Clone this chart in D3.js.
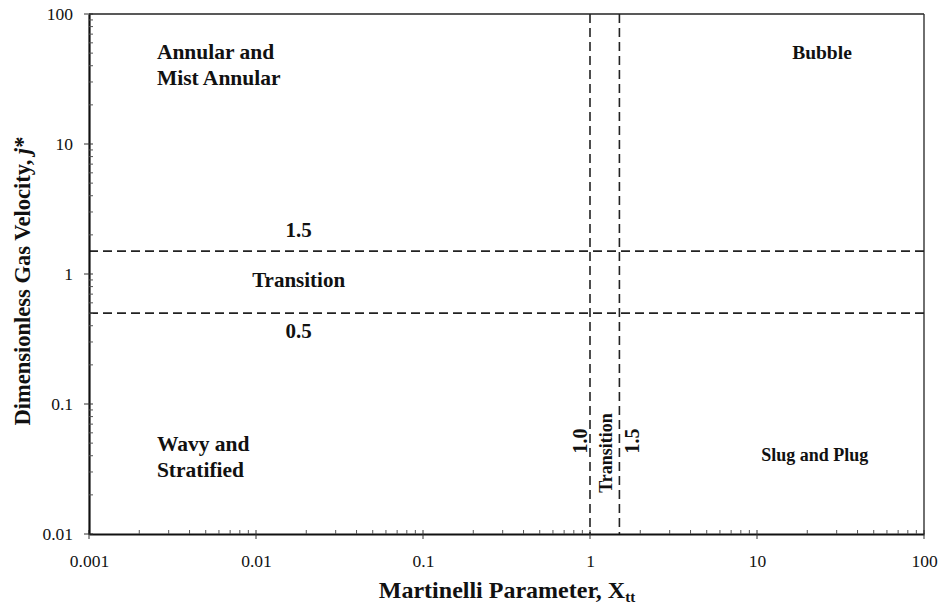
<!DOCTYPE html>
<html><head><meta charset="utf-8">
<script src="https://cdn.jsdelivr.net/npm/d3@7"></script>
<style>
html,body{margin:0;padding:0;background:#fff;}
svg{display:block;}
text{font-family:"Liberation Serif","Times New Roman",serif;fill:#111;}
</style></head><body>
<svg id="c" width="941" height="609"></svg>
<script>
// ---- data ----
const xTickValues = [0.001, 0.01, 0.1, 1, 10, 100];
const xTickLabels = ["0.001", "0.01", "0.1", "1", "10", "100"];
const yTickValues = [0.01, 0.1, 1, 10, 100];
const yTickLabels = ["0.01", "0.1", "1", "10", "100"];
const jStarBoundaries = [0.5, 1.5];          // horizontal dashed lines
const jStarBoundaryLabels = ["0.5", "1.5"];
const xttBoundaries = [1.0, 1.5];            // vertical dashed lines
const xttBoundaryLabels = ["1.0", "1.5"];
const regionNames = [["Annular and", "Mist Annular"], ["Bubble"], ["Wavy and", "Stratified"], ["Slug and Plug"], ["Transition"]];
const regionX = [0.00255, 24.5, 0.00255, 22.2, 0.018];
const regionY = [45, 45, 0.0435, 0.0365, 0.79];
const regionAnchor = ["start", "middle", "start", "middle", "middle"];
const regionSize = [21.5, 19.5, 21.5, 18, 21];

// ---- layout ----
const svg = d3.select("#c");
const L = 89, R = 924, T = 14, B = 534;
const x = d3.scaleLog().domain([0.001, 100]).range([L, R]);
const y = d3.scaleLog().domain([0.01, 100]).range([B, T]);

function minors(dom) {
  const out = [];
  for (let e = Math.round(Math.log10(dom[0])); e < Math.round(Math.log10(dom[1])); e++)
    for (let k = 2; k <= 9; k++) out.push(k * Math.pow(10, e));
  return out;
}
const g = svg.append("g");

// frame (top/right)
g.append("line").attr("x1", L).attr("x2", R).attr("y1", T).attr("y2", T).attr("stroke", "#222").attr("stroke-width", 1.6);
g.append("line").attr("x1", R).attr("x2", R).attr("y1", T).attr("y2", B).attr("stroke", "#333").attr("stroke-width", 1.4);

// dashed boundary lines
g.selectAll(".hb").data(jStarBoundaries).join("line")
  .attr("x1", L).attr("x2", R).attr("y1", d => y(d)).attr("y2", d => y(d))
  .attr("stroke", "#222").attr("stroke-width", 1.6).attr("stroke-dasharray", "9,5");
g.selectAll(".vb").data(xttBoundaries).join("line")
  .attr("y1", T).attr("y2", B).attr("x1", d => x(d)).attr("x2", d => x(d))
  .attr("stroke", "#222").attr("stroke-width", 1.6).attr("stroke-dasharray", "9,5");

// axes
const xAxis = svg.append("g").attr("transform", `translate(0,${B})`);
xAxis.call(d3.axisBottom(x).tickValues(xTickValues).tickFormat((d, i) => xTickLabels[i]).tickSize(0).tickPadding(21));
xAxis.select(".domain").attr("stroke", "#111").attr("stroke-width", 2.2);
xAxis.selectAll("text").attr("font-size", 17.5).attr("font-family", "Liberation Serif").attr("fill", "#222");
xAxis.selectAll(".mj").data(xTickValues).join("line").attr("x1", d => x(d)).attr("x2", d => x(d)).attr("y1", -4).attr("y2", 5).attr("stroke", "#333").attr("stroke-width", 1);
xAxis.selectAll(".mn").data(minors(x.domain())).join("line").attr("x1", d => x(d)).attr("x2", d => x(d)).attr("y1", -4).attr("y2", 0).attr("stroke", "#555").attr("stroke-width", 1);

const yAxis = svg.append("g").attr("transform", `translate(${L},0)`);
yAxis.call(d3.axisLeft(y).tickValues(yTickValues).tickFormat((d, i) => yTickLabels[i]).tickSize(0).tickPadding(16));
yAxis.select(".domain").attr("stroke", "#111").attr("stroke-width", 2.2);
yAxis.selectAll("text").attr("font-size", 17.5).attr("font-family", "Liberation Serif").attr("fill", "#222");
yAxis.selectAll(".mj").data(yTickValues).join("line").attr("y1", d => y(d)).attr("y2", d => y(d)).attr("x1", -5).attr("x2", 4).attr("stroke", "#333").attr("stroke-width", 1);
yAxis.selectAll(".mn").data(minors(y.domain())).join("line").attr("y1", d => y(d)).attr("y2", d => y(d)).attr("x1", 0).attr("x2", 4).attr("stroke", "#555").attr("stroke-width", 1);

// region labels
regionNames.forEach((lines, i) => {
  const t = svg.append("text").attr("x", x(regionX[i])).attr("y", y(regionY[i]))
    .attr("text-anchor", regionAnchor[i]).attr("font-weight", "bold").attr("font-size", regionSize[i]);
  lines.forEach((s, k) => t.append("tspan").attr("x", x(regionX[i])).attr("dy", k === 0 ? 0 : 26).text(s));
});

// horizontal boundary value labels
svg.append("text").attr("x", x(0.018)).attr("y", y(jStarBoundaries[1]) - 14).attr("text-anchor", "middle")
  .attr("font-weight", "bold").attr("font-size", 21).text(jStarBoundaryLabels[1]);
svg.append("text").attr("x", x(0.018)).attr("y", y(jStarBoundaries[0]) + 25).attr("text-anchor", "middle")
  .attr("font-weight", "bold").attr("font-size", 21).text(jStarBoundaryLabels[0]);

// vertical labels
svg.append("text").attr("transform", `translate(${x(xttBoundaries[0]) - 3},441) rotate(-90)`)
  .attr("text-anchor", "middle").attr("font-weight", "bold").attr("font-size", 20).text(xttBoundaryLabels[0]);
svg.append("text").attr("transform", `translate(${x(xttBoundaries[1]) + 20},441) rotate(-90)`)
  .attr("text-anchor", "middle").attr("font-weight", "bold").attr("font-size", 20).text(xttBoundaryLabels[1]);
svg.append("text").attr("transform", `translate(${(x(xttBoundaries[0]) + x(xttBoundaries[1])) / 2 + 7},453) rotate(-90)`)
  .attr("text-anchor", "middle").attr("font-weight", "bold").attr("font-size", 18).text("Transition");

// axis titles
const xt = svg.append("text").attr("x", 507).attr("y", 598).attr("text-anchor", "middle")
  .attr("font-weight", "bold").attr("font-size", 24);
xt.append("tspan").text("Martinelli Parameter, X");
xt.append("tspan").attr("font-size", 15).attr("dy", 4).text("tt");

const yt = svg.append("text").attr("transform", `translate(30,281) rotate(-90)`).attr("text-anchor", "middle")
  .attr("font-weight", "bold").attr("font-size", 22.5);
yt.append("tspan").text("Dimensionless Gas Velocity, ");
yt.append("tspan").attr("font-style", "italic").text("j");
yt.append("tspan").text("*");
</script>
</body></html>
